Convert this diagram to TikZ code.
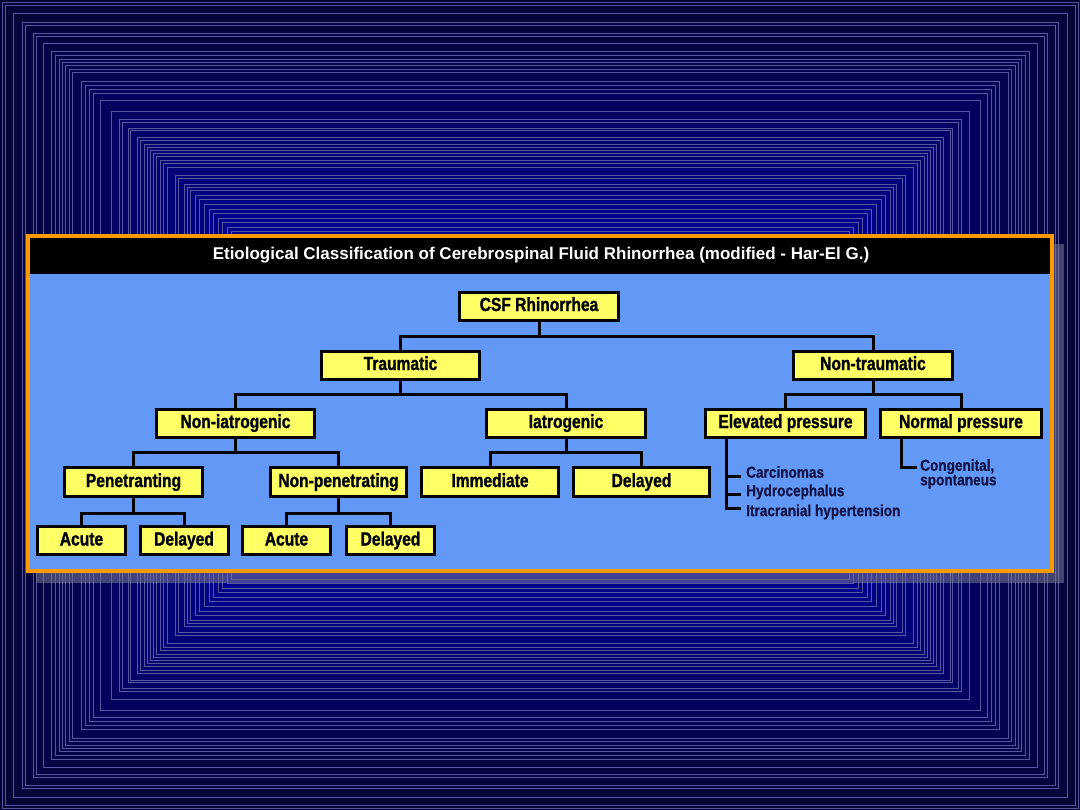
\documentclass[tikz,border=0pt]{standalone}
\usepackage{fontspec}
\setmainfont{Liberation Sans}
\newfontfamily\condfont[FakeStretch=0.82,FakeBold=1.2]{Liberation Sans}
\newfontfamily\subfont[FakeStretch=0.85,FakeBold=0.6]{Liberation Sans}
\definecolor{bgout}{RGB}{4,4,52}
\definecolor{bgin}{RGB}{0,0,145}
\definecolor{bgline}{RGB}{85,85,160}
\definecolor{panelblue}{RGB}{98,153,246}
\definecolor{frameorange}{RGB}{255,153,0}
\definecolor{boxyellow}{RGB}{255,255,102}
\definecolor{subtext}{RGB}{18,18,70}
\definecolor{shadowc}{RGB}{120,120,150}
\tikzset{
  box/.style={draw=black, line width=3bp, fill=boxyellow, inner sep=0pt,
    minimum height=28bp, text height=13.5bp, text depth=3.5bp, text=black,
    font=\condfont\bfseries\fontsize{19bp}{21bp}\selectfont},
  midbox/.style={box, minimum height=29bp},
  leafbox/.style={box, minimum width=88bp},
  conn/.style={draw=black, line width=3bp},
  subtxt/.style={font=\subfont\bfseries\fontsize{16bp}{14.5bp}\selectfont,
    text=subtext, inner sep=0pt, anchor=west},
  bgl/.style={draw=bgline, line width=0.8bp},
}
\begin{document}
\begin{tikzpicture}[x=1bp,y=-1bp]
\useasboundingbox (0,0) rectangle (1080,810);
% background gradient (rectangular)
\foreach \i in {0,...,46}{
  \pgfmathtruncatemacro{\p}{min(100,\i*100/46)}
  \pgfmathsetmacro{\d}{\i*5}
  \fill[bgin!\p!bgout] (\d,\d) rectangle (1080-\d,810-\d);
}
% concentric lines
\foreach \d in {2,5,13,22,25,33,36,43,51,55,59,62,65,69,72,81,85,89,93,100,111,119,122,128,130,137,140,144,147,150,153,156,160,163,167,175,178,184,187,190,195,199,204,209,213,218,222,227,231}{
  \draw[bgl] (\d,\d) rectangle (1080-\d,810-\d);
}
% shadow
\fill[shadowc, opacity=0.55] (36,244) rectangle (1064,583);
% panel
\fill[panelblue] (28,236) rectangle (1052,571);
\fill[black] (28,236) rectangle (1052,274);
\draw[frameorange, line width=4bp] (28,236) rectangle (1052,571);
\node[text=white, font=\bfseries\fontsize{17bp}{19bp}\selectfont, inner sep=0pt] (title) at (541,255)
  {Etiological Classification of Cerebrospinal Fluid Rhinorrhea (modified - Har-El G.)};

% nodes
\node[box, minimum width=159bp] (csf) at (539,306) {CSF Rhinorrhea};
\node[box, minimum width=158bp] (trau) at (400.5,365) {Traumatic};
\node[box, minimum width=159bp] (nontr) at (873,365) {Non-traumatic};
\node[box, minimum width=158bp] (noni) at (235.5,423) {Non-iatrogenic};
\node[box, minimum width=159bp] (iat) at (566,423) {Iatrogenic};
\node[box, minimum width=160bp] (elev) at (785.5,423) {Elevated pressure};
\node[box, minimum width=161bp] (norm) at (961,423) {Normal pressure};
\node[midbox, minimum width=138bp] (pen) at (133.5,482) {Penetranting};
\node[midbox, minimum width=136bp] (npen) at (338.5,482) {Non-penetrating};
\node[midbox, minimum width=137bp] (imm) at (490,482) {Immediate};
\node[midbox, minimum width=136bp] (idel) at (641.5,482) {Delayed};
\node[leafbox] (a1) at (81.5,540.5) {Acute};
\node[leafbox] (d1) at (184,540.5) {Delayed};
\node[leafbox] (a2) at (286.5,540.5) {Acute};
\node[leafbox] (d2) at (390.5,540.5) {Delayed};

% connectors
\draw[conn] (csf.south) -- (csf.south |- 0,336) -| (trau.north);
\draw[conn] (csf.south |- 0,336) -| (nontr.north);
\draw[conn] (trau.south) -- (trau.south |- 0,394) -| (noni.north);
\draw[conn] (trau.south |- 0,394) -| (iat.north);
\draw[conn] (nontr.south) -- (nontr.south |- 0,394) -| (elev.north);
\draw[conn] (nontr.south |- 0,394) -| (norm.north);
\draw[conn] (noni.south) -- (noni.south |- 0,452) -| (pen.north);
\draw[conn] (noni.south |- 0,452) -| (npen.north);
\draw[conn] (iat.south) -- (iat.south |- 0,452) -| (imm.north);
\draw[conn] (iat.south |- 0,452) -| (idel.north);
\draw[conn] (pen.south) -- (pen.south |- 0,513) -| (a1.north);
\draw[conn] (pen.south |- 0,513) -| (d1.north);
\draw[conn] (npen.south) -- (npen.south |- 0,513) -| (a2.north);
\draw[conn] (npen.south |- 0,513) -| (d2.north);

% elevated pressure list
\node[subtxt] (carc) at (746,472) {Carcinomas};
\node[subtxt] (hydro) at (746,492) {Hydrocephalus};
\node[subtxt] (itra) at (746,512) {Itracranial hypertension};
\coordinate (t1) at (741,476);
\coordinate (t2) at (741,494);
\coordinate (t3) at (741,508);
\draw[conn] (elev.south -| 726,0) -- (t3 -| 726,0) -- (t3);
\draw[conn] (t1 -| 726,0) -- (t1);
\draw[conn] (t2 -| 726,0) -- (t2);

% normal pressure
\node[subtxt, anchor=north west, align=left] (cong) at (920,459) {Congenital,\\spontaneus};
\coordinate (t4) at (917,467);
\draw[conn] (norm.south -| 901,0) -- (t4 -| 901,0) -- (t4);
\end{tikzpicture}
\end{document}
